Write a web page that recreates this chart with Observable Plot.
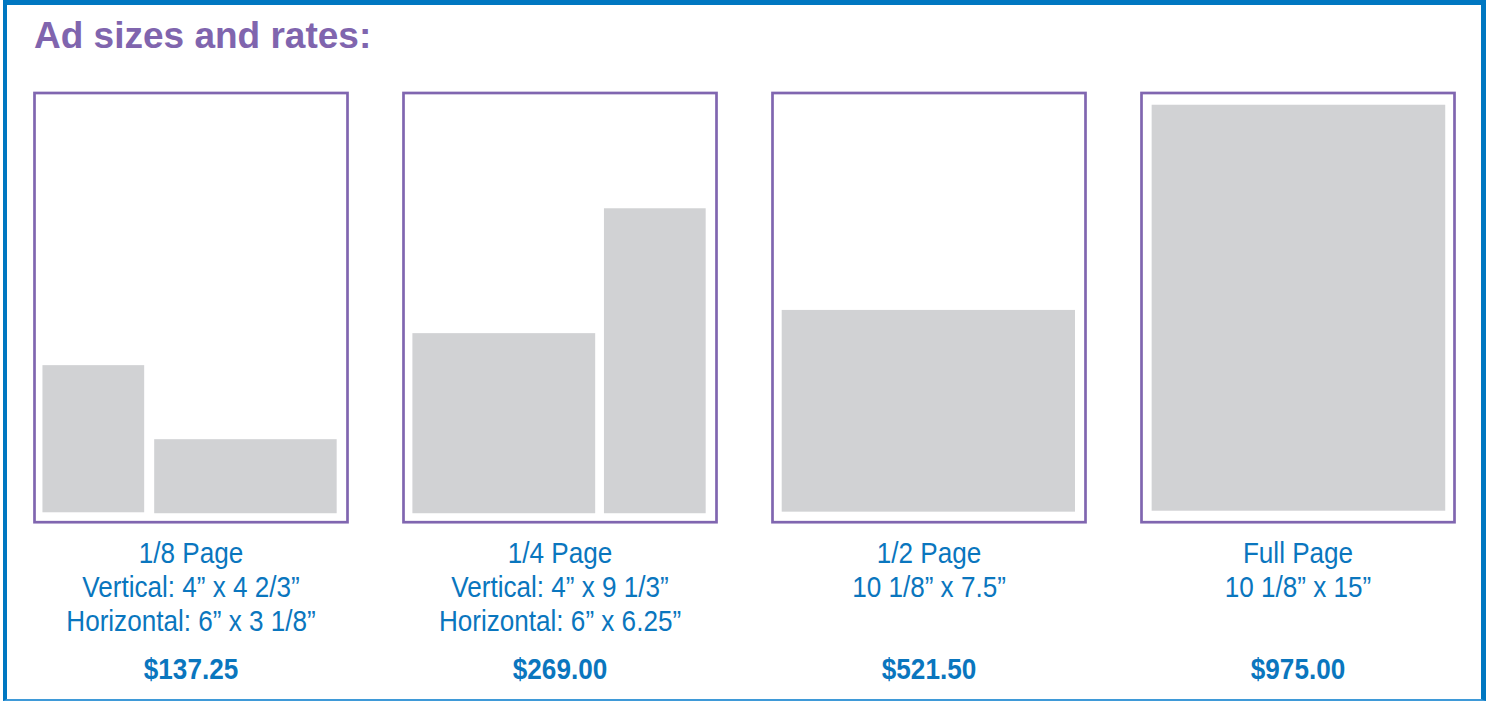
<!DOCTYPE html>
<html>
<head>
<meta charset="utf-8">
<script src="https://cdn.jsdelivr.net/npm/d3@7"></script>
<script src="https://cdn.jsdelivr.net/npm/@observablehq/plot@0.6"></script>
<style>
  html, body { margin: 0; padding: 0; background: #fff; }
  #wrap { position: relative; width: 1487px; height: 701px; overflow: hidden; background: #fff; }
  #chart { position: absolute; left: 0; top: 0; }
  #frame { position: absolute; left: 3px; top: 0; width: 1483px; height: 701px; box-sizing: border-box;
           border-style: solid; border-color: #0077c1; border-width: 5px 5px 2px 4px; border-bottom-color: #3f9ad8; pointer-events: none; }
  #title { position: absolute; left: 34px; top: 17px; margin: 0; font: bold 37px "Liberation Sans", Arial, sans-serif;
           line-height: 1; color: #8065ae; white-space: nowrap; }
</style>
</head>
<body>
<div id="wrap">
  <div id="chart"></div>
  <div id="frame"></div>
  <div id="title">Ad sizes and rates:</div>
</div>
<script>
// Page categories (one drawing per ad size)
const pageNames = ["1/8 Page", "1/4 Page", "1/2 Page", "Full Page"];
const pageSizes = [
  "Vertical: 4\u201D x 4 2/3\u201D\nHorizontal: 6\u201D x 3 1/8\u201D",
  "Vertical: 4\u201D x 9 1/3\u201D\nHorizontal: 6\u201D x 6.25\u201D",
  "10 1/8\u201D x 7.5\u201D",
  "10 1/8\u201D x 15\u201D"
];
const pagePrices = ["$137.25", "$269.00", "$521.50", "$975.00"];

// Ad blocks drawn inside each page (page units: 0–100 wide, 0–136.8 tall)
const adPage = ["1/8 Page", "1/8 Page", "1/4 Page", "1/4 Page", "1/2 Page", "Full Page"];
const adKind = ["Vertical", "Horizontal", "Horizontal", "Vertical", "Half", "Full"];
const adX1 = [2.7, 38.4, 3.0, 64.2, 3.1, 3.4];
const adX2 = [35.2, 96.7, 61.4, 96.7, 96.8, 97.2];
const adY1 = [3.0, 2.7, 2.7, 2.7, 3.2, 3.5];
const adY2 = [49.9, 26.3, 60.1, 99.9, 67.5, 132.9];

const pages = pageNames.map((p, i) => ({page: p, label: p + "\n" + pageSizes[i], price: pagePrices[i]}));
const ads = adPage.map((p, i) => ({page: p, kind: adKind[i], x1: adX1[i], x2: adX2[i], y1: adY1[i], y2: adY2[i]}));

const blue = "#0a76be";
const purple = "#8066b0";
const sans = "'Liberation Sans', Arial, Helvetica, sans-serif";

const chart = Plot.plot({
  width: 1487,
  height: 701,
  marginLeft: 33.5,
  marginRight: 31.8,
  marginTop: 92.5,
  marginBottom: 179.3,
  fx: {domain: pageNames, paddingInner: 0.1507, paddingOuter: 0, axis: null, label: null},
  x: {domain: [0, 100], axis: null},
  y: {domain: [0, 136.8], axis: null},
  style: {background: "transparent", overflow: "visible"},
  marks: [
    Plot.rect(ads, {fx: "page", x1: "x1", x2: "x2", y1: "y1", y2: "y2", fill: "#d1d2d4"}),
    Plot.frame({stroke: purple, strokeWidth: 2.7}),
    Plot.text(pages, {fx: "page", text: "label", frameAnchor: "bottom", lineAnchor: "top", dy: 17,
      fontSize: 30, lineHeight: 1.133, fill: blue, fontFamily: sans}),
    Plot.text(pages, {fx: "page", text: "price", frameAnchor: "bottom", lineAnchor: "bottom", dy: 156.5,
      fontSize: 30, fontWeight: "bold", fill: blue, fontFamily: sans})
  ]
});

// Condense the label glyphs horizontally (the original uses a condensed face)
const condense = 0.87;
chart.querySelectorAll("text").forEach((t) => {
  const tr = t.getAttribute("transform");
  if (tr) {
    t.setAttribute("transform", tr + ` scale(${condense},1)`);
  } else {
    const x = +(t.getAttribute("x") || 0);
    t.setAttribute("transform", `translate(${x},0) scale(${condense},1) translate(${-x},0)`);
  }
});

document.getElementById("chart").appendChild(chart);
</script>
</body>
</html>
